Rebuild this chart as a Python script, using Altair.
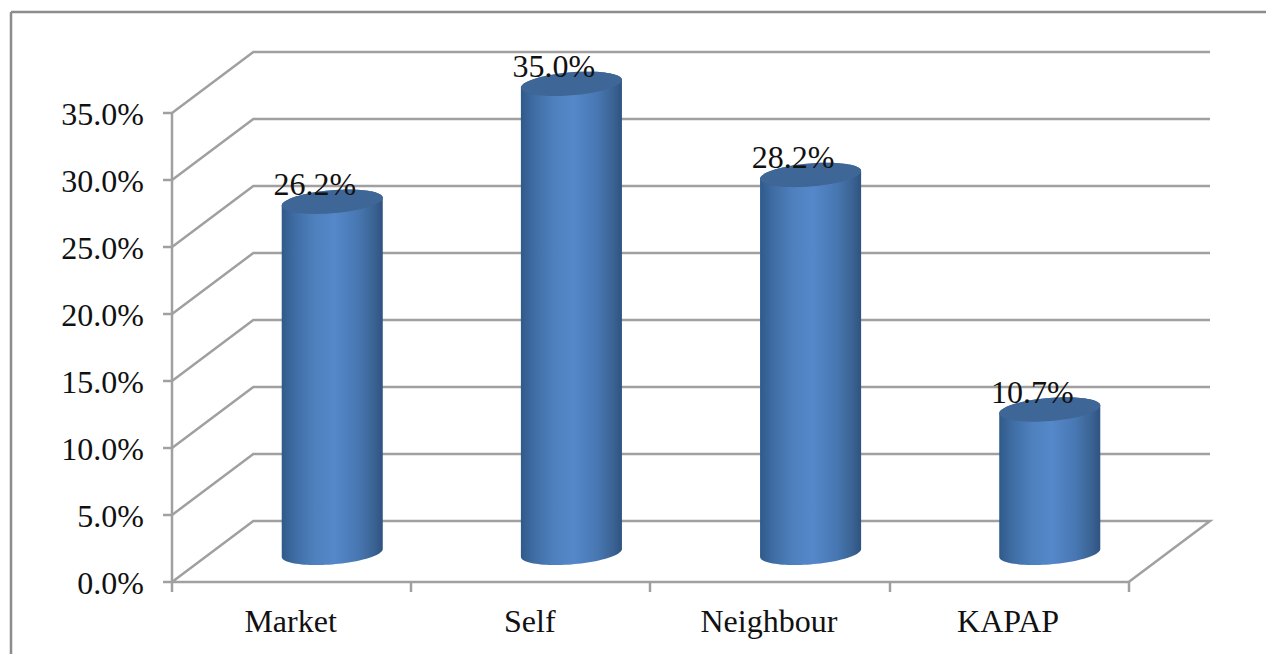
import math
import altair as alt
import pandas as pd

categories = ["Market", "Self", "Neighbour", "KAPAP"]
shares = [26.2, 35.0, 28.2, 10.7]
y_ticks = [0, 5, 10, 15, 20, 25, 30, 35]
x_ticks = [0, 1, 2, 3, 4]

# Oblique projection: one unit of depth moves a point this far along each axis.
DEPTH_X = 0.34
DEPTH_Y = 4.55
X_MAX = 4.34
Y_MAX = 39.55
FONT = "Liberation Serif"
GRID = "#a0a0a0"
LABEL_SIZE = 32

# Cylinder cross-section, in axis units.
RADIUS_X = 0.2
RADIUS_DEPTH = 0.2
ARC_STEPS = 48


def projected_ellipse():
    """Upper and lower arcs of the sheared cylinder cap, as offsets from its centre."""
    s = DEPTH_X * RADIUS_DEPTH
    h = DEPTH_Y * RADIUS_DEPTH
    a = math.hypot(RADIUS_X, s)
    phi = math.atan2(s, RADIUS_X)
    arcs = []
    for i in range(ARC_STEPS + 1):
        th = math.pi * (1 - i / ARC_STEPS)
        arcs.append((i, a * math.cos(th), h * math.sin(th + phi), h * math.sin(phi - th)))
    return arcs


# Wall and floor lines, front edge to back edge.
grid_rows = []
for v in y_ticks:
    pts = [(0, v), (DEPTH_X, v + DEPTH_Y), (X_MAX, v + DEPTH_Y)]
    if v == 0:
        pts.append((4, 0))
        pts.append((0, 0))
    for k, (gx, gy) in enumerate(pts):
        grid_rows.append({"tick": v, "k": k, "gx": gx, "gy": gy})
grid_df = pd.DataFrame(grid_rows)

body_rows, cap_rows, label_rows, name_rows = [], [], [], []
for idx, (name, val) in enumerate(zip(categories, shares)):
    cx = idx + 0.5 + DEPTH_X / 2
    cy = DEPTH_Y / 2 - 0.1
    for i, dx, up, low in projected_ellipse():
        body_rows.append({"cat": name, "i": i, "px": cx + dx,
                          "upper": cy + val + up, "lower": cy + low})
        cap_rows.append({"cat": name, "i": i, "px": cx + dx,
                         "upper": cy + val + up, "lower": cy + val + low})
    label_rows.append({"px": cx, "py": cy + val, "label": f"{val:.1f}%"})
    name_rows.append({"px": idx + 0.5, "py": 0, "name": name})

x_scale = alt.Scale(domain=[0, X_MAX], nice=False, zero=False)
y_scale = alt.Scale(domain=[0, Y_MAX], nice=False, zero=False)
x_axis = alt.Axis(values=x_ticks, labels=False, grid=False, domain=False, translate=0,
                  tickSize=10, tickColor=GRID, tickWidth=2.5, title=None)
y_axis = alt.Axis(values=y_ticks, grid=False, domain=False, translate=0, tickSize=9,
                  tickColor=GRID, tickWidth=2.5, labelPadding=19, labelOffset=2,
                  labelExpr="format(datum.value, '.1f') + '%'",
                  labelFont=FONT, labelFontSize=LABEL_SIZE,
                  labelColor="#111111", title=None)


def px_x(field):
    return alt.X(field, scale=x_scale, axis=x_axis)


def px_y(field):
    return alt.Y(field, scale=y_scale, axis=y_axis)


grid = (
    alt.Chart(grid_df)
    .mark_line(color=GRID, strokeWidth=2.5, strokeJoin="miter")
    .encode(x=px_x("gx:Q"), y=px_y("gy:Q"), detail="tick:N", order="k:Q")
)

value_axis = (
    alt.Chart(pd.DataFrame({"a": [0], "lo": [y_ticks[0]], "hi": [y_ticks[-1]]}))
    .mark_rule(color=GRID, strokeWidth=2.5)
    .encode(x=px_x("a:Q"), y=px_y("lo:Q"), y2="hi:Q")
)

shade = alt.Gradient(
    gradient="linear", x1=0, x2=1, y1=0, y2=0,
    stops=[
        alt.GradientStop(offset=0, color="#2f5a8a"),
        alt.GradientStop(offset=0.12, color="#3e6ba2"),
        alt.GradientStop(offset=0.32, color="#4e80bd"),
        alt.GradientStop(offset=0.52, color="#5588ca"),
        alt.GradientStop(offset=0.75, color="#4878b3"),
        alt.GradientStop(offset=0.9, color="#3c6596"),
        alt.GradientStop(offset=1, color="#2f5382"),
    ],
)

bodies = (
    alt.Chart(pd.DataFrame(body_rows))
    .mark_area(color=shade, orient="vertical", opacity=1)
    .encode(x=px_x("px:Q"), y=px_y("upper:Q"), y2=alt.Y2("lower:Q"), detail="cat:N")
)

caps = (
    alt.Chart(pd.DataFrame(cap_rows))
    .mark_area(color="#3e6696", orient="vertical", opacity=1)
    .encode(x=px_x("px:Q"), y=px_y("upper:Q"), y2=alt.Y2("lower:Q"), detail="cat:N")
)

value_labels = (
    alt.Chart(pd.DataFrame(label_rows))
    .mark_text(font=FONT, fontSize=LABEL_SIZE, color="#111111", dx=-17.5, dy=-16.5, baseline="middle")
    .encode(x=px_x("px:Q"), y=px_y("py:Q"), text="label:N")
)

category_labels = (
    alt.Chart(pd.DataFrame(name_rows))
    .mark_text(font=FONT, fontSize=LABEL_SIZE, color="#111111", dx=-1, dy=50, baseline="alphabetic")
    .encode(x=px_x("px:Q"), y=px_y("py:Q"), text="name:N")
)

# Top and left edges of the chart frame.
frame_top = alt.Chart().mark_rule(color="#8c8c8c", strokeWidth=2.5).encode(
    x=alt.value(-161), x2=alt.value(1094), y=alt.value(-40)
)
frame_left = alt.Chart().mark_rule(color="#8c8c8c", strokeWidth=2.5).encode(
    x=alt.value(-161), y=alt.value(-40), y2=alt.value(602)
)

chart = (
    alt.layer(grid, value_axis, bodies, caps, value_labels, category_labels, frame_top, frame_left)
    .resolve_scale(x="shared", y="shared")
    .properties(
        width=1038,
        height=530,
        padding={"left": 172, "top": 52, "right": 56, "bottom": 72},
        autosize=alt.AutoSizeParams(type="none"),
        background="white",
    )
    .configure_view(stroke=None)
)

chart.save("out.html", embed_options={"renderer": "svg", "actions": False})
